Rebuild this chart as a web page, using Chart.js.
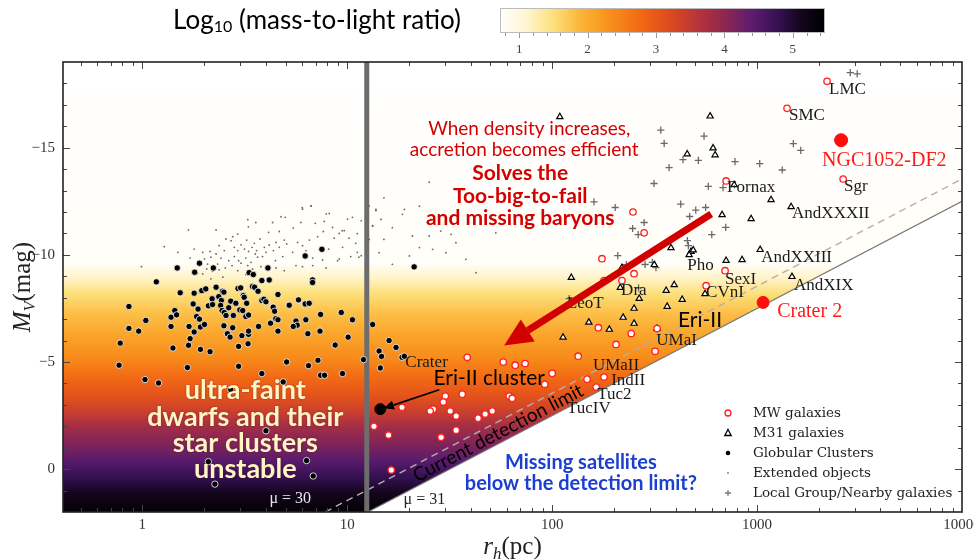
<!DOCTYPE html>
<html>
<head>
<meta charset="utf-8">
<script src="https://cdn.jsdelivr.net/npm/chart.js@4.4.1/dist/chart.umd.min.js"></script>
<style>
  html, body { margin: 0; padding: 0; background: #fff; }
  #wrap { position: relative; width: 974px; height: 560px; }
  #main { position: absolute; left: 0; top: 0; }
  #cbar { position: absolute; left: 480px; top: 0; }
</style>
</head>
<body>
<div id="wrap">
  <canvas id="main" width="974" height="560" style="width:974px;height:560px"></canvas>
  <canvas id="cbar" width="370" height="62" style="width:370px;height:62px"></canvas>
</div>
<script>
// ---- data: [r_h (pc), M_V (mag)] ----
const mwGalaxies = [
  [2195, -18.10], [1400, -16.84], [2630, -13.54], [706, -13.45], [248, -12.0], [281, -11.03],
  [175, -9.82], [251, -9.12], [179, -8.8], [219, -8.8], [698, -9.26], [564, -8.56],
  [168, -6.6], [243, -6.33], [205, -5.82], [318, -5.5], [325, -6.56], [134, -5.27],
  [100, -4.47], [92, -3.96], [148, -4.2], [179, -4.3], [164, -3.83],
  [38.5, -5.22], [57.7, -5.0], [66, -4.85], [73.8, -4.93], [36.4, -3.5], [30.1, -3.41],
  [29.4, -3.13], [18.5, -2.89], [26.3, -2.8], [25.4, -2.71], [31.8, -2.71], [34, -2.48],
  [43.5, -2.38], [47.1, -2.57], [51, -2.71], [61.7, -3.41], [63.8, -3.31], [13.5, -2.0],
  [15.9, -1.59], [34, -1.82], [28.7, -1.49], [16.4, 0.04]
];
const m31Galaxies = [
  [109, -16.44], [590, -16.47], [456, -14.7], [610, -14.98], [624, -14.66], [773, -13.27],
  [1170, -12.57], [1466, -12.24], [675, -11.87], [935, -11.68], [380, -10.33], [476, -10.15],
  [466, -10.0], [488, -10.22], [706, -9.73], [845, -9.77], [1035, -10.24], [1480, -8.98],
  [315, -9.54], [219, -9.4], [215, -8.47], [266, -7.96], [360, -8.33], [394, -8.6],
  [431, -7.91], [557, -8.18], [251, -7.5], [364, -7.59], [124, -8.94], [151, -6.85],
  [190, -6.52], [113, -6.15], [222, -7.08], [251, -6.8], [325, -6.56]
];
const globularClusters = [
  [0.86,-7.59],[0.78,-5.88],[0.77,-4.85],[0.86,-6.57],[0.96,-6.44],[1.04,-6.94],[1.03,-4.18],[1.20,-4.02],
  [1.17,-8.74],[1.48,-9.39],[1.53,-8.23],[1.38,-7.09],[1.44,-7.40],[1.47,-7.20],[1.38,-6.66],[1.41,-5.65],
  [1.69,-6.66],[1.68,-5.78],[1.71,-6.09],[1.79,-6.40],[1.77,-7.71],[1.79,-8.21],[1.87,-7.47],[1.84,-7.12],
  [1.90,-7.00],[1.92,-6.63],[1.92,-5.59],[2.01,-6.75],[1.95,-8.33],[2.04,-8.41],[1.90,-9.61],[1.80,-9.19],
  [2.14,-5.48],[2.22,-9.39],[2.19,-7.95],[2.29,-8.49],[2.10,-7.62],[2.20,-7.68],[2.36,-8.05],[2.43,-7.87],
  [2.46,-8.30],[2.50,-8.26],[2.41,-7.64],[2.45,-7.40],[2.51,-7.31],[2.56,-7.17],[2.50,-6.69],[2.60,-6.32],
  [2.68,-6.16],[2.76,-6.60],[2.64,-7.53],[2.70,-7.84],[2.78,-7.17],[2.86,-7.74],[2.93,-8.43],[3.02,-8.46],
  [2.99,-7.43],[3.09,-7.40],[3.11,-8.10],[3.14,-8.02],[3.20,-7.12],[3.30,-7.19],[3.23,-7.74],[2.95,-5.73],
  [3.06,-6.23],[3.30,-6.29],[3.30,-6.44],[3.28,-5.85],[3.32,-9.17],[3.48,-9.08],[3.45,-8.52],[3.53,-8.49],
  [3.69,-6.66],[3.67,-8.30],[3.83,-8.80],[3.83,-7.87],[3.92,-7.93],[4.01,-7.81],[4.10,-9.39],[4.16,-8.83],
  [4.35,-7.56],[4.42,-7.37],[4.59,-8.15],[4.48,-7.02],[4.59,-6.97],[4.59,-6.44],[4.22,-6.81],[5.21,-7.65],
  [5.78,-7.90],[6.23,-7.71],[6.52,-7.74],[5.62,-6.91],[5.70,-6.72],[5.45,-6.66],[6.28,-6.97],[6.42,-6.32],
  [7.36,-6.44],[7.41,-7.22],[6.23,-9.95],[7.52,-10.26],[6.77,-8.83],[6.77,-8.71],[7.19,-5.08],[6.47,-4.83],
  [5.06,-5.00],[2.95,-4.80],[3.83,-4.46],[4.87,-4.07],[1.66,-4.74],[8.73,-5.79],[9.35,-7.31],[10.1,-6.16],
  [10.6,-6.97],[9.48,-4.46],[7.41,-4.38],[7.75,-4.38],[12.0,-5.11],[13.3,-6.75],[14.3,-5.51],[14.7,-5.26],
  [14.5,-4.72],[4.01,-1.79],[2.10,-0.35],[6.33,-0.40],[6.82,0.32],[2.26,0.70],[2.70,-3.71],[16.0,-6.0],
  [17.3,-5.68],[18.5,-5.22],[19.0,-5.27],[21.2,-9.44]
];
const extendedObjects = [
  [1.68,-11.17],[2.29,-11.16],[3.27,-11.64],[3.29,-11.31],[3.58,-11.51],[4.32,-11.51],[4.75,-11.78],[4.98,-11.75],
  [6.05,-12.13],[6.65,-12.29],[8.17,-11.93],[7.72,-11.56],[6.98,-11.47],[5.94,-11.51],[5.45,-11.25],[4.66,-11.09],
  [4.13,-11.05],[3.75,-10.74],[3.52,-10.54],[3.23,-10.69],[2.92,-10.97],[2.71,-10.66],[2.56,-10.74],[2.37,-10.43],
  [2.14,-10.16],[1.97,-10.12],[1.79,-10.27],[1.49,-10.12],[1.71,-9.85],[2.01,-9.81],[2.16,-9.89],[2.42,-9.85],
  [2.51,-10.20],[2.76,-10.85],[2.81,-10.35],[2.92,-10.20],[3.03,-10.47],[3.15,-10.27],[3.30,-10.16],[3.43,-10.35],
  [3.61,-10.20],[3.94,-10.35],[4.16,-10.46],[4.49,-10.58],[4.93,-10.69],[5.06,-10.51],[5.72,-10.58],[6.05,-10.43],
  [6.53,-10.69],[7.17,-10.85],[7.64,-11.09],[8.48,-11.28],[8.64,-10.78],[9.14,-11.00],[9.67,-11.13],[10.04,-11.67],
  [10.6,-11.75],[10.2,-10.78],[11.0,-10.54],[11.2,-10.12],[9.49,-10.35],[8.11,-10.27],[8.97,-9.73],[7.58,-9.76],
  [6.78,-9.85],[6.29,-10.20],[5.41,-10.12],[4.84,-9.92],[4.46,-9.73],[3.86,-9.92],[3.65,-9.89],[3.39,-9.65],
  [3.20,-9.85],[2.95,-9.73],[2.74,-9.50],[2.54,-9.39],[2.37,-9.30],[2.20,-9.23],[2.06,-9.34],[1.97,-9.11],
  [1.86,-9.14],[2.16,-8.88],[2.47,-8.96],[2.92,-9.26],[3.20,-9.08],[3.45,-9.33],[3.79,-9.45],[4.16,-9.50],
  [4.49,-9.39],[4.93,-9.26],[5.62,-9.50],[6.05,-9.45],[6.78,-9.50],[7.87,-9.39],[9.14,-9.81],[10.4,-9.92],
  [11.4,-9.89],[12.8,-12.29],[13.8,-12.06],[13.3,-11.36],[11.7,-11.59],[3.56,-10.04],[3.27,-9.50],[3.03,-9.61],
  [4.01,-10.12],[4.36,-10.20],[4.66,-10.35],[2.81,-9.92],[2.64,-9.73],[2.33,-9.57],[2.08,-9.57],[2.29,-10.04],
  [25.1,-13.39],[15.1,-12.66],[13.8,-12.12],[19.0,-12.12],[22.5,-12.27],[18.6,-11.89],[14.6,-11.65],[13.3,-11.34],
  [16.6,-11.27],[20.8,-10.88],[25.1,-10.88],[28.6,-11.11],[32.1,-10.96],[33.9,-10.57],[26.1,-10.26],[22.5,-10.34],
  [20.1,-9.95],[14.3,-10.10],[16.6,-9.56],[37.9,-9.79],[42.5,-9.17],[12.8,-10.72],[15.1,-10.72],[30.3,-10.10],
  [53.1,-11.03],[25.6,-11.65],[0.99,-9.45],[1.28,-10.38],[6.67,-12.28],[6.03,-12.2],[7.9,-11.91],[9.45,-11.13],
  [11.2,-10.99],[11.7,-9.96]
];
const localGroup = [
  [2850,-18.5],[3080,-18.45],[339,-15.82],[551,-15.54],[352,-15.20],[372,-14.07],[435,-14.44],[517,-14.41],
  [780,-14.35],[1030,-14.26],[1327,-13.96],[1503,-15.19],[1633,-14.88],[314,-13.33],[578,-13.20],[682,-13.14],
  [203,-12.21],[424,-12.37],[502,-12.09],[561,-12.21],[469,-11.79],[281,-11.51],[247,-11.23],[263,-10.94],
  [703,-11.28],[601,-10.94],[457,-10.66],[462,-10.43],[209,-9.96],[284,-9.55],[308,-9.65],[264,-8.46],
  [230,-9.54],[321,-9.40],[121,-7.96],[160,-12.47]
];
const highlightNames = ['NGC1052-DF2', 'Crater 2'];
const highlightPts = [[2570, -15.35], [1070, -7.78]];
const eriClusterPt = [[14.5, -2.80]];

// named objects: label anchor (left edge, middle) in data units
const labelNames = ['LMC','SMC','Sgr','Fornax','AndXXXII','AndXXIII','AndXIX','Pho','SexI','CVnI','Dra','LeoT','UMaI','UMaII','IndII','Tuc2','TucIV','Crater'];
const labelR = [2244, 1432, 2655, 714, 1482, 1047, 1515, 456, 698, 564, 217, 118, 322, 158, 194, 166, 118, 19.2];
const labelM = [-17.73, -16.52, -13.17, -13.13, -11.92, -9.87, -8.57, -9.5, -8.85, -8.24, -8.33, -7.73, -6.0, -4.85, -4.15, -3.5, -2.85, -4.99];
const redLabelR = [2075, 1253];
const redLabelM = [-14.38, -7.36];

// surface-brightness limits and the r_h cut
const mu31Line = [[12.6, 2], [10000, -12.5]];
const mu30Line = [[7.8, 2], [10000, -13.54]];
const rhCut = 12.45;

// log10 mass-to-light background, as a function of M_V
const mlMag = [-19, -9.6, -8.9, -8.2, -7.3, -6.2, -5.1, -4.3, -3.5, -2.7, -2.0, -1.2, -0.4, 0.4, 1.1, 2];
const mlLog = [0.72, 0.78, 1.15, 1.5, 1.8, 2.1, 2.4, 2.75, 3.05, 3.4, 3.8, 4.1, 4.45, 4.8, 5.1, 5.4];

// colour bar
const cbValues = [0.72, 1.1, 1.5, 1.9, 2.3, 2.8, 3.2, 3.6, 4.0, 4.4, 4.8, 5.1, 5.47];
const cbColors = ['#ffffff','#fff6d2','#fde07c','#fbb537','#f8921c','#f26614','#de4a1e','#b8353a','#8e2650','#5e1c70','#341050','#14061e','#000000'];
const cbTicks = [1, 2, 3, 4, 5];

const xTicks = [1, 10, 100, 1000, 10000];
const yTicks = [-15, -10, -5, 0];

const serif = "'Liberation Serif', 'DejaVu Serif', serif";
const sans = "Lato, 'Open Sans', sans-serif";

const pts = arr => arr.map(p => ({ x: p[0], y: p[1] }));

function hexRgb(h) {
  return [parseInt(h.slice(1, 3), 16), parseInt(h.slice(3, 5), 16), parseInt(h.slice(5, 7), 16)];
}
function cmap(v) {
  if (v <= cbValues[0]) return cbColors[0];
  for (let i = 1; i < cbValues.length; i++) {
    if (v <= cbValues[i]) {
      const t = (v - cbValues[i - 1]) / (cbValues[i] - cbValues[i - 1]);
      const a = hexRgb(cbColors[i - 1]), b = hexRgb(cbColors[i]);
      const c = a.map((q, k) => Math.round(q + (b[k] - q) * t));
      return `rgb(${c[0]},${c[1]},${c[2]})`;
    }
  }
  return cbColors[cbColors.length - 1];
}

function drawParts(ctx, parts, cx, y) {
  let w = 0;
  parts.forEach(p => { ctx.font = p.font; w += ctx.measureText(p.t).width; });
  let x = cx - w / 2;
  parts.forEach(p => {
    ctx.font = p.font;
    ctx.fillText(p.t, x, y + (p.dy || 0));
    x += ctx.measureText(p.t).width;
  });
}

function arrow(ctx, x1, y1, x2, y2, lw, hl, hw, color) {
  const a = Math.atan2(y2 - y1, x2 - x1);
  const bx = x2 - hl * Math.cos(a), by = y2 - hl * Math.sin(a);
  ctx.save();
  ctx.strokeStyle = color; ctx.fillStyle = color; ctx.lineWidth = lw;
  ctx.beginPath(); ctx.moveTo(x1, y1); ctx.lineTo(bx, by); ctx.stroke();
  ctx.beginPath();
  ctx.moveTo(x2, y2);
  ctx.lineTo(bx + hw * Math.sin(a), by - hw * Math.cos(a));
  ctx.lineTo(bx - hw * Math.sin(a), by + hw * Math.cos(a));
  ctx.closePath(); ctx.fill();
  ctx.restore();
}

const backgroundPlugin = {
  id: 'mlBackground',
  beforeDatasetsDraw(chart) {
    const { ctx, chartArea: a, scales: { y } } = chart;
    const g = ctx.createLinearGradient(0, a.top, 0, a.bottom);
    mlMag.forEach((m, i) => {
      const f = (y.getPixelForValue(m) - a.top) / (a.bottom - a.top);
      g.addColorStop(Math.min(1, Math.max(0, f)), cmap(mlLog[i]));
    });
    ctx.save();
    ctx.fillStyle = g;
    ctx.fillRect(a.left, a.top, a.right - a.left, a.bottom - a.top);
    ctx.restore();
  }
};

const annotationPlugin = {
  id: 'annotations',
  afterDatasetsDraw(chart) {
    const { ctx, chartArea: a, scales: { x, y } } = chart;
    const X = v => x.getPixelForValue(v), Y = v => y.getPixelForValue(v);
    ctx.save();
    ctx.textBaseline = 'middle';
    ctx.textAlign = 'left';

    // object names
    ctx.fillStyle = '#1a1a1a';
    ctx.font = '17px ' + serif;
    labelNames.forEach((n, i) => ctx.fillText(n, X(labelR[i]), Y(labelM[i])));
    ctx.fillStyle = '#ff1a1a';
    ctx.font = '20px ' + serif;
    highlightNames.forEach((n, i) => ctx.fillText(n, X(redLabelR[i]), Y(redLabelM[i])));

    // arrows
    arrow(ctx, X(597), Y(-11.91), X(58.3), Y(-5.77), 7, 28, 13, '#d20000');
    arrow(ctx, X(28.1), Y(-3.70), X(15.1), Y(-2.84), 1.6, 10, 4.5, '#000');

    ctx.textAlign = 'center';
    ctx.fillStyle = '#d40000';
    ctx.font = '19px ' + sans;
    ctx.fillText('When density increases,', X(77.3), Y(-15.87));
    ctx.fillText('accretion becomes efficient', X(73), Y(-14.9));
    ctx.font = 'bold 21px ' + sans;
    ctx.fillText('Solves the', X(69.8), Y(-13.82));
    ctx.fillText('Too-big-to-fail', X(69.8), Y(-12.75));
    ctx.fillText('and missing baryons', X(69.8), Y(-11.73));

    ctx.fillStyle = '#000';
    ctx.font = '21px ' + sans;
    ctx.fillText('Eri-II cluster', X(49.3), Y(-4.23));
    ctx.textAlign = 'left';
    ctx.fillText('Eri-II', X(411), Y(-6.94));

    ctx.textAlign = 'center';
    ctx.save();
    ctx.shadowColor = 'rgba(90,20,40,0.6)';
    ctx.shadowBlur = 2;
    ctx.fillStyle = '#fff6c4';
    ctx.font = 'bold 27px ' + sans;
    ctx.fillText('ultra-faint', X(3.18), Y(-3.68));
    ctx.fillText('dwarfs and their', X(3.18), Y(-2.43));
    ctx.fillText('star clusters', X(3.18), Y(-1.21));
    ctx.fillText('unstable', X(3.18), Y(0.0));
    ctx.restore();

    ctx.fillStyle = '#1b3fd0';
    ctx.font = 'bold 20px ' + sans;
    ctx.fillText('Missing satellites', X(138), Y(-0.33));
    ctx.fillText('below the detection limit?', X(138), Y(0.65));

    // text along the detection limit
    const ang = Math.atan2(Y(mu31Line[1][1]) - Y(mu31Line[0][1]), X(mu31Line[1][0]) - X(mu31Line[0][0]));
    ctx.save();
    ctx.translate(X(54.5), Y(-1.68));
    ctx.rotate(ang);
    ctx.fillStyle = '#000';
    ctx.font = '19px ' + sans;
    ctx.fillText('Current detection limit', 0, 0);
    ctx.restore();

    ctx.font = '16px ' + serif;
    ctx.fillStyle = '#222';
    ctx.fillText('\u03bc = 31', X(23.8), Y(1.43));
    ctx.fillStyle = '#e6e6e6';
    ctx.fillText('\u03bc = 30', X(5.27), Y(1.38));

    // legend
    const lx = 728, tx = 753, rows = [413, 433, 453, 473, 493];
    const names = ['MW galaxies', 'M31 galaxies', 'Globular Clusters', 'Extended objects', 'Local Group/Nearby galaxies'];
    ctx.textAlign = 'left';
    ctx.font = '13.5px DejaVu Serif';
    ctx.fillStyle = '#222';
    names.forEach((n, i) => ctx.fillText(n, tx, rows[i]));
    ctx.lineWidth = 1.3;
    ctx.strokeStyle = '#ff1f1f'; ctx.fillStyle = '#fff';
    ctx.beginPath(); ctx.arc(lx, rows[0], 3, 0, 2 * Math.PI); ctx.fill(); ctx.stroke();
    ctx.strokeStyle = '#000';
    ctx.beginPath(); ctx.moveTo(lx, rows[1] - 3.5); ctx.lineTo(lx + 3.2, rows[1] + 2.5); ctx.lineTo(lx - 3.2, rows[1] + 2.5); ctx.closePath(); ctx.fill(); ctx.stroke();
    ctx.fillStyle = '#000';
    ctx.beginPath(); ctx.arc(lx, rows[2], 2.3, 0, 2 * Math.PI); ctx.fill();
    ctx.fillStyle = '#777';
    ctx.beginPath(); ctx.arc(lx, rows[3], 0.9, 0, 2 * Math.PI); ctx.fill();
    ctx.strokeStyle = '#777';
    ctx.beginPath(); ctx.moveTo(lx - 3, rows[4]); ctx.lineTo(lx + 3, rows[4]); ctx.moveTo(lx, rows[4] - 3); ctx.lineTo(lx, rows[4] + 3); ctx.stroke();
    ctx.restore();
  },
  afterDraw(chart) {
    const { ctx, chartArea: a, scales: { x, y } } = chart;
    ctx.save();
    // inward ticks
    ctx.strokeStyle = '#444';
    ctx.lineWidth = 1;
    ctx.beginPath();
    for (let d = -1; d <= 3; d++) {
      for (let k = 1; k <= 9; k++) {
        const v = k * Math.pow(10, d);
        if (v < x.min || v > x.max) continue;
        const px = Math.round(x.getPixelForValue(v)) + 0.5;
        const len = k === 1 ? 7 : 4;
        ctx.moveTo(px, a.bottom); ctx.lineTo(px, a.bottom - len);
        ctx.moveTo(px, a.top); ctx.lineTo(px, a.top + len);
      }
    }
    for (let m = -18; m <= 1; m++) {
      const py = Math.round(y.getPixelForValue(m)) + 0.5;
      const len = m % 5 === 0 ? 7 : 4;
      ctx.moveTo(a.left, py); ctx.lineTo(a.left + len, py);
      ctx.moveTo(a.right, py); ctx.lineTo(a.right - len, py);
    }
    ctx.stroke();
    // frame
    ctx.strokeStyle = '#222';
    ctx.lineWidth = 1.6;
    ctx.strokeRect(a.left, a.top, a.right - a.left, a.bottom - a.top);

    // axis titles
    ctx.fillStyle = '#222';
    ctx.textBaseline = 'alphabetic';
    drawParts(ctx, [
      { t: 'r', font: 'italic 25px ' + serif },
      { t: 'h', font: 'italic 17px ' + serif, dy: 5 },
      { t: '(pc)', font: '25px ' + serif }
    ], (a.left + a.right) / 2, 554);
    ctx.save();
    ctx.translate(30, (a.top + a.bottom) / 2);
    ctx.rotate(-Math.PI / 2);
    drawParts(ctx, [
      { t: 'M', font: 'italic 25px ' + serif },
      { t: 'V', font: 'italic 16px ' + serif, dy: 5 },
      { t: '(mag)', font: '25px ' + serif }
    ], 0, 0);
    ctx.restore();

    // colour bar title
    ctx.fillStyle = '#000';
    drawParts(ctx, [
      { t: 'Log', font: '26px ' + sans },
      { t: '10', font: '16px ' + sans, dy: 3 },
      { t: ' (mass-to-light ratio)', font: '26px ' + sans }
    ], 317, 29);
    ctx.restore();
  }
};

const lineStyle = { type: 'line', pointRadius: 0, tension: 0 };

new Chart(document.getElementById('main'), {
  type: 'scatter',
  data: {
    datasets: [
      { label: 'highlight', data: pts(highlightPts), pointRadius: [6.5, 6], backgroundColor: '#ff0d0d', borderColor: '#ff0d0d', order: 0 },
      { label: 'Eri-II cluster', data: pts(eriClusterPt), pointRadius: 5.5, backgroundColor: '#000', borderColor: '#000', order: 0 },
      { label: 'MW galaxies', data: pts(mwGalaxies), pointStyle: 'circle', pointRadius: 3.2, borderWidth: 1.3, borderColor: '#ff1f1f', backgroundColor: '#fff', order: 1 },
      { label: 'M31 galaxies', data: pts(m31Galaxies), pointStyle: 'triangle', pointRadius: 3.6, borderWidth: 1.2, borderColor: '#000', backgroundColor: '#fff', order: 2 },
      { label: 'Globular Clusters', data: pts(globularClusters), pointStyle: 'circle', pointRadius: 3.2, borderWidth: 0.8, borderColor: '#fff', backgroundColor: '#000', order: 3 },
      { label: 'Local Group/Nearby galaxies', data: pts(localGroup), pointStyle: 'cross', pointRadius: 3.6, borderWidth: 1.3, borderColor: '#6a6a6a', order: 4 },
      { label: 'Extended objects', data: pts(extendedObjects), pointStyle: 'circle', pointRadius: 0.9, borderWidth: 0, backgroundColor: '#666', order: 5 },
      Object.assign({ label: 'rh cut', data: [{ x: rhCut, y: -19 }, { x: rhCut, y: 2 }], borderColor: '#6d6d6d', borderWidth: 5, order: 6 }, lineStyle),
      Object.assign({ label: 'mu30', data: pts(mu30Line), borderColor: '#b0b0b0', borderWidth: 1.4, borderDash: [7, 5], order: 7 }, lineStyle),
      Object.assign({ label: 'mu31', data: pts(mu31Line), borderColor: '#777', borderWidth: 1.2, fill: 'start', backgroundColor: '#ffffff', order: 8 }, lineStyle)
    ]
  },
  options: {
    responsive: false,
    animation: false,
    devicePixelRatio: 1,
    events: [],
    layout: { padding: { left: 0, right: 12, top: 62, bottom: 0 } },
    plugins: { legend: { display: false }, tooltip: { enabled: false } },
    scales: {
      x: {
        type: 'logarithmic', min: 0.41, max: 10000,
        grid: { display: false, drawTicks: false },
        border: { display: false },
        afterBuildTicks: s => { s.ticks = xTicks.map(v => ({ value: v })); },
        afterFit: s => { s.height = 48; s.paddingLeft = 0; s.paddingRight = 0; },
        ticks: { callback: v => String(v), padding: 4, maxRotation: 0, autoSkip: false, color: '#333', font: { family: serif, size: 15 } }
      },
      y: {
        type: 'linear', min: -19, max: 2, reverse: true,
        grid: { display: false, drawTicks: false },
        border: { display: false },
        afterBuildTicks: s => { s.ticks = yTicks.map(v => ({ value: v })); },
        afterFit: s => { s.width = 63; },
        ticks: { callback: v => (v < 0 ? '\u2212' + Math.abs(v) : String(v)), padding: 8, color: '#333', font: { family: serif, size: 15 } }
      }
    }
  },
  plugins: [backgroundPlugin, annotationPlugin]
});

// colour bar as its own small chart
const cbarPlugin = {
  id: 'cbarFill',
  beforeDatasetsDraw(chart) {
    const { ctx, chartArea: a, scales: { x } } = chart;
    const g = ctx.createLinearGradient(a.left, 0, a.right, 0);
    cbValues.forEach((v, i) => {
      const f = (x.getPixelForValue(v) - a.left) / (a.right - a.left);
      g.addColorStop(Math.min(1, Math.max(0, f)), cbColors[i]);
    });
    ctx.save();
    ctx.fillStyle = g;
    ctx.fillRect(a.left, a.top, a.right - a.left, a.bottom - a.top);
    ctx.strokeStyle = '#bbb';
    ctx.lineWidth = 1;
    ctx.strokeRect(a.left + 0.5, a.top + 0.5, a.right - a.left - 1, a.bottom - a.top - 1);
    ctx.strokeStyle = '#999';
    ctx.beginPath();
    for (let v = 0.8; v <= 5.41; v += 0.2) {
      const px = Math.round(x.getPixelForValue(v)) + 0.5;
      const major = Math.abs(v - Math.round(v)) < 0.01;
      ctx.moveTo(px, a.bottom); ctx.lineTo(px, a.bottom + (major ? 5 : 3));
    }
    ctx.stroke();
    ctx.restore();
  }
};

new Chart(document.getElementById('cbar'), {
  type: 'scatter',
  data: { datasets: [{ data: [] }] },
  options: {
    responsive: false,
    animation: false,
    devicePixelRatio: 1,
    events: [],
    layout: { padding: { left: 20, right: 25, top: 8, bottom: 0 } },
    plugins: { legend: { display: false }, tooltip: { enabled: false } },
    scales: {
      x: {
        type: 'linear', min: 0.72, max: 5.47,
        grid: { display: false, drawTicks: false },
        border: { display: false },
        afterBuildTicks: s => { s.ticks = cbTicks.map(v => ({ value: v })); },
        afterFit: s => { s.height = 29; s.paddingLeft = 0; s.paddingRight = 0; },
        ticks: { padding: 9, color: '#444', font: { family: serif, size: 13 } }
      },
      y: { display: false, min: 0, max: 1 }
    }
  },
  plugins: [cbarPlugin]
});
</script>
</body>
</html>
